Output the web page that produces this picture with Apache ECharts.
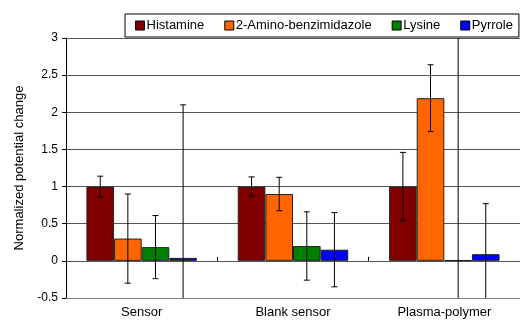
<!DOCTYPE html>
<html><head><meta charset="utf-8">
<script src="https://cdn.jsdelivr.net/npm/echarts@6/dist/echarts.min.js"></script>
<style>html,body{margin:0;padding:0;background:#fff}#c{width:520px;height:322px}</style>
</head><body><div id="c"></div>
<script>
var categories = ['Sensor', 'Blank sensor', 'Plasma-polymer'];
var seriesNames = ['Histamine', '2-Amino-benzimidazole', 'Lysine', 'Pyrrole'];
var histamine = [1.0, 1.0, 1.0];
var histamineErr = [0.14, 0.13, 0.46];
var aminoBenz = [0.30, 0.90, 2.19];
var aminoBenzErr = [0.60, 0.225, 0.45];
var lysine = [0.185, 0.20, 0.01];
var lysineErr = [0.425, 0.46, 4.0];
var pyrrole = [0.04, 0.15, 0.09];
var pyrroleErr = [2.06, 0.50, 0.68];
var yTicks = [-0.5, 0, 0.5, 1, 1.5, 2, 2.5, 3];
var colors = ['#800000', '#FF6600', '#008000', '#0000FF'];

var values = [histamine, aminoBenz, lysine, pyrrole];
var errs = [histamineErr, aminoBenzErr, lysineErr, pyrroleErr];
var CAT_GAP = 0.27;
var font = 'Liberation Sans, Arial, sans-serif';

var series = [];
values.forEach(function (vals, k) {
  series.push({
    name: seriesNames[k], type: 'bar', data: vals,
    barGap: '0%', barCategoryGap: (CAT_GAP * 100) + '%',
    itemStyle: { color: colors[k], borderColor: '#222', borderWidth: 1 },
    z: 2
  });
});
values.forEach(function (vals, k) {
  series.push({
    name: 'err' + k, type: 'custom', z: 5,
    data: vals.map(function (v, i) { return [i, v, errs[k][i], k]; }),
    renderItem: function (params, api) {
      var ci = api.value(0), v = api.value(1), e = api.value(2), idx = api.value(3);
      var band = api.size([1, 0])[0];
      var bw = band * (1 - CAT_GAP) / 4;
      var xc = api.coord([ci, 0])[0] + (idx - 1.5) * bw;
      var top = api.coord([ci, v + e])[1];
      var bot = api.coord([ci, v - e])[1];
      var cs = params.coordSys;
      var yMin = cs.y, yMax = cs.y + cs.height;
      var t = Math.max(top, yMin), b = Math.min(bot, yMax);
      var st = { stroke: '#000', lineWidth: 1 };
      var ch = [{ type: 'line', shape: { x1: xc, y1: t, x2: xc, y2: b }, style: st }];
      if (top >= yMin) ch.push({ type: 'line', shape: { x1: xc - 3, y1: top, x2: xc + 3, y2: top }, style: st });
      if (bot <= yMax) ch.push({ type: 'line', shape: { x1: xc - 3, y1: bot, x2: xc + 3, y2: bot }, style: st });
      return { type: 'group', children: ch };
    }
  });
});

var chart = echarts.init(document.getElementById('c'));
chart.setOption({
  animation: false,
  backgroundColor: '#fff',
  textStyle: { fontFamily: font },
  grid: { left: 66, top: 38, width: 455, height: 260, containLabel: false },
  legend: {
    data: seriesNames, left: 125, top: 14,
    padding: [5, 6, 5, 10], itemGap: 20, itemWidth: 9, itemHeight: 9,
    borderColor: '#000', borderWidth: 1, icon: 'rect',
    itemStyle: { borderColor: '#000', borderWidth: 1 },
    textStyle: { fontSize: 13, color: '#000', fontFamily: font, padding: [0, 0, 0, -3] },
    selectedMode: false
  },
  xAxis: [{
    type: 'category', data: categories, position: 'bottom',
    axisLine: { onZero: false, lineStyle: { color: '#808080', width: 1 } },
    axisTick: { show: false },
    axisLabel: { color: '#000', fontSize: 13, margin: 8, fontFamily: font },
    splitLine: { show: false }
  }, {
    type: 'category', data: categories, position: 'bottom',
    axisLine: { onZero: true, lineStyle: { color: '#555', width: 1 } },
    axisTick: { show: true, inside: true, length: 4, lineStyle: { color: '#000' } },
    axisLabel: { show: false }
  }],
  yAxis: {
    type: 'value', min: yTicks[0], max: yTicks[yTicks.length - 1], interval: 0.5,
    name: 'Normalized potential change', nameLocation: 'middle', nameGap: 40,
    nameTextStyle: { fontSize: 13, color: '#000', fontFamily: font },
    axisLine: { show: true, lineStyle: { color: '#000' } },
    axisTick: { show: true, length: 4, lineStyle: { color: '#000' } },
    axisLabel: { color: '#000', fontSize: 12, margin: 8, fontFamily: font },
    splitLine: { show: true, lineStyle: { color: '#555', width: 1 } }
  },
  series: series
});
</script></body></html>
